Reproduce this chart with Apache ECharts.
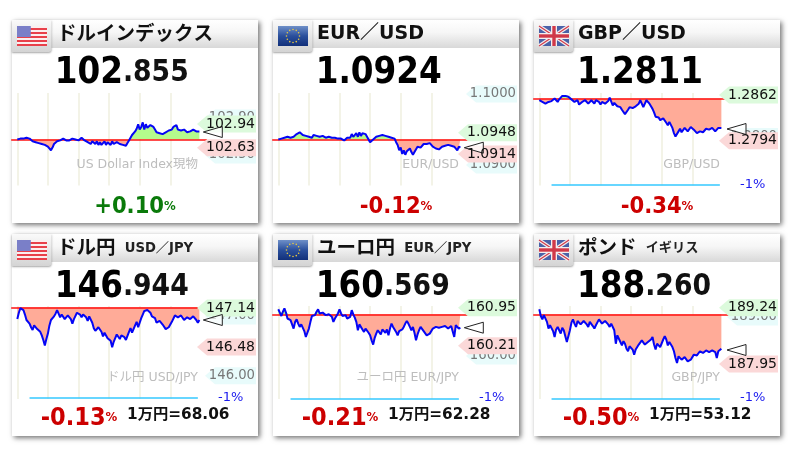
<!DOCTYPE html>
<html><head><meta charset="utf-8">
<style>html,body{margin:0;padding:0;background:#fff}#c{width:788px;height:458px}</style>
<script src="https://cdn.jsdelivr.net/npm/echarts@6/dist/echarts.min.js"></script>
</head><body><div id="c"></div>
<script>
// change from previous close, in 0.01% units
const usdIndexChange=[0,1,1,0,1,2,2,3,1,0,-2,-1,-3,-2,-4,-3,-5,-4,-6,-7,-8,-10,-12,-9,-5,-7,-2,-3,-1,0,1,0,-1,1,-1,0,1,2,0,1,
-1,0,2,1,-1,-2,-3,-1,-5,-2,-3,-5,-2,-6,-3,-6,-5,-2,-6,-3,-4,-6,-2,-5,-6,-3,-2,-5,-3,-6,-5,-7,-4,-1,1,5,4,9,12,17,
11,14,19,11,17,13,11,16,18,14,11,8,10,7,9,6,5,8,7,10,9,11,14,12,16,11,13,10,9,11,10,8,10,9,7,11,13,9,8,9];
const eurUsdChange=[0,2,1,0,2,1,3,1,2,4,3,4,6,5,8,6,5,7,4,6,3,4,2,5,3,4,2,3,5,4,3,2,1,3,1,2,0,2,3,1,
3,1,2,-1,-2,2,4,2,6,3,5,7,3,8,4,7,5,6,3,5,-3,-4,0,2,3,1,4,2,5,3,4,6,3,5,2,4,1,-3,-6,-12,
-9,-16,-12,-17,-13,-15,-10,-14,-17,-14,-16,-8,-6,-9,-8,-5,-7,-5,-6,-4,-6,-8,-7,-10,-12,-11,-10,-8,-9,-7,-8,-6,-8,-7,-6,-8,-7,-12,-8,-9];
const gbpUsdChange=[-2,-3,-4,-5,-6,-5,-4,-2,-3,-1,0,-2,-4,-1,1,3,4,3,4,2,
1,-1,-2,-4,-3,-2,-7,-5,-4,-6,-2,-3,-6,-5,-2,-4,-6,-2,-1,-4,
-7,-4,-5,-6,-5,-3,1,0,-8,-5,-6,-9,-11,-10,-13,-15,-18,-16,-13,-10,
-8,-11,-12,-9,-10,-6,-2,-4,-10,-6,-2,-3,-6,-9,-12,-16,-21,-19,-22,-25,
-27,-23,-22,-28,-31,-27,-29,-34,-40,-44,-46,-38,-35,-39,-37,-34,-35,-38,-37,-33,
-33,-36,-37,-40,-41,-38,-36,-39,-38,-35,-33,-36,-37,-34,-33,-38,-37,-34,-33,-34];
const usdJpyChange=[-13,-6,-1,-2,-3,-8,-14,-16,-18,-22,-25,-20,-19,-24,-23,-27,-31,-36,-42,-35,
-29,-20,-14,-12,-10,-7,-3,-7,-11,-8,-10,-13,-14,-9,-7,-13,-18,-13,-11,-6,
-5,-8,-11,-8,-7,-11,-15,-10,-11,-17,-23,-26,-27,-22,-21,-27,-32,-28,-29,-34,
-32,-37,-44,-38,-34,-30,-32,-35,-31,-30,-33,-36,-34,-27,-23,-28,-27,-20,-16,-22,
-21,-12,-8,-4,-2,-3,-1,-6,-10,-9,-12,-17,-18,-15,-14,-19,-21,-24,-25,-22,
-21,-16,-14,-9,-7,-11,-12,-9,-11,-14,-13,-11,-11,-13,-12,-10,-11,-14,-17,-14];
const eurJpyChange=[6,2,-2,3,7,2,-5,-3,-7,-12,-17,-9,-6,-11,-15,-12,-13,-20,-27,-22,
-17,-9,-2,-3,-1,3,6,1,-1,2,1,-1,-3,0,1,-3,-9,-5,-4,1,
6,1,-2,-1,-1,-5,-7,-3,5,0,-4,-9,-19,-12,-13,-18,-21,-17,-17,-22,
-25,-31,-36,-28,-23,-19,-21,-24,-18,-17,-22,-18,-25,-17,-11,-15,-15,-21,-25,-20,
-22,-18,-15,-11,-8,-11,-15,-19,-15,-22,-31,-24,-19,-15,-17,-20,-22,-25,-27,-23,
-21,-17,-17,-15,-17,-16,-17,-15,-15,-14,-15,-17,-15,-14,-15,-27,-13,-15,-17,-16];
const gbpJpyChange=[6,-2,-6,-1,-2,-9,-17,-13,-15,-20,-27,-18,-15,-19,-23,-16,-19,-26,-33,-26,
-19,-10,-6,-11,-15,-8,-6,-12,-13,-8,-7,-12,-15,-9,-8,-14,-17,-13,-11,-6,
-6,-11,-13,-8,-7,-12,-15,-11,-9,-19,-35,-25,-27,-33,-37,-32,-35,-41,-44,-38,
-37,-42,-48,-42,-40,-36,-37,-31,-31,-36,-37,-33,-35,-30,-27,-36,-42,-35,-35,-39,
-38,-30,-26,-30,-37,-33,-35,-39,-44,-52,-58,-50,-48,-54,-56,-51,-50,-56,-58,-54,
-54,-48,-46,-49,-48,-44,-42,-46,-46,-43,-42,-45,-46,-43,-41,-45,-52,-44,-42,-41];

const titles=['ドルインデックス','EUR／USD','GBP／USD','ドル円','ユーロ円','ポンド'];
const subTitles=['','','','USD／JPY','EUR／JPY','イギリス'];
const priceMain=['102','1.0924','1.2811','146','160','188'];
const priceDecimals=['.855','','','.944','.569','.260'];
const changeLabels=['+0.10','-0.12','-0.34','-0.13','-0.21','-0.50'];
const highLabels=['102.94','1.0948','1.2862','147.14','160.95','189.24'];
const lowLabels=['102.63','1.0914','1.2794','146.48','160.21','187.95'];
const axisLabels=[['102.90','102.50'],['1.1000','1.0900'],['1.2800'],['147.00','146.00'],['160.00'],['189.00']];
const watermarks=['US Dollar Index現物','EUR/USD','GBP/USD','ドル円 USD/JPY','ユーロ円 EUR/JPY','GBP/JPY'];
const perManYen=['','','','1万円=68.06','1万円=62.28','1万円=53.12'];
const flagKinds=['us','eu','uk','us','eu','uk'];
const changeSeries=[usdIndexChange,eurUsdChange,gbpUsdChange,usdJpyChange,eurJpyChange,gbpJpyChange];

// layout
const L=[12,273,534,12,273,534], T=[20,20,20,234,234,234], PW=246, PH=[203,203,203,202,202,202];
const baseY=[139.5,139.5,98.5,307.3,314.3,314.3];
const pxPerUnit=[.9,.9,.865,.907,.84,.84];
const hasMinus=[0,0,1,1,1,1], minusY=[0,0,184.5,398,398,398];
const plotTop=[93,93,93,306,306,306], plotBot=[185.5,185.5,185.5,399,399,399];
const hiY=[124,132.7,95,308,307.7,307.7], loY=[147.7,154,140.7,347,345.7,364];
const axY=[[118,155],[94,165],[136.5],[316,375.7],[356],[317]];
const triX=[191.3,191.3,193,191.3,191.3,193], triY=[132,147.7,129,320,327.7,350];
const priceX=[109.7,105.7,106,109.7,109.7,110];
const FS='"DejaVu Sans","Noto Sans CJK JP",sans-serif', TAG='"DejaVu Sans",sans-serif';
const PAD=4, NCAT=129, STEP=1.53;
const cats=Array.from({length:NCAT},(_,i)=>String(i));

const grids=[],xAxes=[],yAxes=[],series=[],g=[];
function rect(x,y,w,h,style,z,extra){return {type:'rect',shape:Object.assign({x,y,width:w,height:h},extra||{}),style,z,silent:true};}
function poly(points,style,z){return {type:'polygon',shape:{points},style,z,silent:true};}
function text(x,y,t,font,fill,align,z,rich,sx){return {type:'text',x,y,z,silent:true,scaleX:sx||1,originX:0,originY:0,style:{text:t,font,fill,align:align||'left',verticalAlign:'middle',rich}};}
function tag(l,yc,color,z,tipOff){const r=l+244,tip=l+tipOff,h=8.5;return poly([[tip,yc],[tip+10,yc-h],[r,yc-h],[r,yc+h],[tip+10,yc+h]],{fill:color},z);}
function flag(kind,x,y,w,h,z){
  const o=[];
  if(kind==='us'){
    for(let i=0;i<5;i++){o.push(rect(x,y+i*h/5,w,h/10,{fill:'#fbeeee'},z));o.push(rect(x,y+i*h/5+h/10,w,h/10,{fill:'#e8404a'},z));}
    o.push(rect(x,y,w*.46,h*.55,{fill:'#7a7fc8'},z+1));
  }else if(kind==='eu'){
    o.push(rect(x,y,w,h,{fill:{type:'linear',x:0,y:0,x2:0,y2:1,colorStops:[{offset:0,color:'#6f90c8'},{offset:.5,color:'#2a4f9c'},{offset:1,color:'#12307a'}]}},z));
    for(let i=0;i<12;i++){const a=i*Math.PI/6;o.push({type:'circle',shape:{cx:x+w/2+6.5*Math.cos(a),cy:y+h/2+6.5*Math.sin(a),r:.8},style:{fill:'#e8c840'},z:z+1,silent:true});}
  }else{
    o.push(rect(x,y,w,h,{fill:'#4a62a8'},z));
    const ln=(a,b,c,d,col,lw)=>o.push({type:'line',shape:{x1:a,y1:b,x2:c,y2:d},style:{stroke:col,lineWidth:lw},z:z+1,silent:true});
    ln(x,y,x+w,y+h,'#f4eeee',3.6);ln(x+w,y,x,y+h,'#f4eeee',3.6);
    ln(x,y,x+w,y+h,'#d03848',1.2);ln(x+w,y,x,y+h,'#d03848',1.2);
    ln(x+w/2,y,x+w/2,y+h,'#f4eeee',6);ln(x,y+h/2,x+w,y+h/2,'#f4eeee',6);
    ln(x+w/2,y,x+w/2,y+h,'#d03848',3.4);ln(x,y+h/2,x+w,y+h/2,'#d03848',3.4);
  }
  return o;
}

changeSeries.forEach((vals,i)=>{
  const l=L[i],t=T[i],low=i>=3,s=pxPerUnit[i];
  // ---- panel chrome
  g.push(rect(l,t,PW,PH[i],{fill:'#fff',shadowBlur:5,shadowColor:'rgba(0,0,0,.55)',shadowOffsetX:2,shadowOffsetY:2},-5));
  g.push(rect(l,t,PW,28,{fill:{type:'linear',x:0,y:0,x2:0,y2:1,colorStops:[{offset:0,color:'#ffffff'},{offset:.45,color:'#f6f6f6'},{offset:1,color:'#d8d8d8'}]}},-4));
  g.push(rect(l,t,39.5,32,{fill:{type:'linear',x:0,y:0,x2:0,y2:1,colorStops:[{offset:0,color:'#fafafa'},{offset:1,color:'#d4d4d4'}]},shadowBlur:2,shadowColor:'rgba(0,0,0,.35)',shadowOffsetY:1},-3,{r:[0,0,3,0]}));
  flag(flagKinds[i],l+5,t+6,30,20,5).forEach(e=>g.push(e));
  const tx=l+(i==0||i==3?45:44);
  if(subTitles[i]){
    g.push(text(tx,t+14.5,`{a|${titles[i]}}{b|  ${subTitles[i]}}`,'',"#111",'left',8,{a:{font:`bold 19.5px ${FS}`,fill:'#111'},b:{font:`bold 13.2px ${FS}`,fill:'#222'}}));
  }else g.push(text(tx,t+14.5,titles[i],`bold ${i==0?19.5:19}px ${FS}`,'#111','left',8));
  // ---- price
  g.push(text(l+priceX[i],low?287:73,`{a|${priceMain[i]}}{b|${priceDecimals[i]}}`,'','#000','center',8,{a:{font:`bold 38px ${FS}`,fill:'#000'},b:{font:`bold 31px ${FS}`,fill:'#111'}},.86));
  // ---- price tags
  axisLabels[i].forEach((a,k)=>{g.push(tag(l,axY[i][k],'#e8fbfb',20,193));g.push(text(l+243,axY[i][k],a,`13.2px ${TAG}`,'#777','right',21));});
  g.push(tag(l,hiY[i],'#dcfadc',22,185));g.push(tag(l,loY[i],'#fbd8d8',22,185));
  const tr=l+triX[i];
  g.push(poly([[tr,triY[i]],[tr+19,triY[i]-5.5],[tr+19,triY[i]+5.5]],{fill:'rgba(255,255,255,.7)',stroke:'#222',lineWidth:1},23));
  g.push(text(l+243,hiY[i],highLabels[i],`14px ${TAG}`,'#111','right',24));
  g.push(text(l+243,loY[i],lowLabels[i],`14px ${TAG}`,'#111','right',24));
  // ---- watermark & change
  g.push(text(l+186,low?378:165,watermarks[i],`12.5px ${FS}`,'#bdbdbd','right',6));
  const col=vals===usdIndexChange?'#0a7a0a':'#cc0000';
  const cx=low?l+67:l+123, cy=low?418:207, fz=low?25:23.5;
  g.push(text(cx,cy,`{a|${changeLabels[i]}}{b|%}`,'',col,'center',8,{a:{font:`bold ${fz}px ${FS}`,fill:col},b:{font:`bold 13px ${FS}`,fill:col}},.9));
  if(perManYen[i])g.push(text(l+115,415,perManYen[i],`bold 15.3px ${FS}`,'#111','left',8));
  if(hasMinus[i])g.push(text(l+206,minusY[i],'-1%',`13px ${TAG}`,'#1a1aee','left',8));

  // ---- chart
  const left=l+5.3-PAD*STEP, h=plotBot[i]-plotTop[i];
  const yMax=(baseY[i]-plotTop[i])/s, yMin=yMax-h/s;
  grids.push({left,top:plotTop[i],width:(NCAT-1)*STEP,height:h});
  xAxes.push({type:'category',gridIndex:i,data:cats,boundaryGap:false,z:0,
    axisLine:{show:false},axisTick:{show:false},axisLabel:{show:false},
    splitLine:{show:true,interval:k=>(k-PAD)>=0&&(k-PAD)%20===0&&(k-PAD)<=100,lineStyle:{color:'#efefdf',width:1.5}}});
  yAxes.push({type:'value',gridIndex:i,min:yMin,max:yMax,show:false,splitLine:{show:false}});
  const pad=a=>[null,null,null,null,...a];
  const common={type:'line',xAxisIndex:i,yAxisIndex:i,showSymbol:false,silent:true,clip:false,animation:false};
  series.push(Object.assign({},common,{name:'pos'+i,data:pad(vals.map(v=>Math.max(v,0))),lineStyle:{width:0},areaStyle:{origin:0,color:'#b4fb8c',opacity:1},z:2}));
  series.push(Object.assign({},common,{name:'neg'+i,data:pad(vals.map(v=>Math.min(v,0))),lineStyle:{width:0},areaStyle:{origin:0,color:'#ffab98',opacity:1},z:2}));
  const refs=[[{xAxis:'0',yAxis:0,lineStyle:{color:'#ff1111',width:1.6}},{xAxis:String(NCAT-1),yAxis:0}]];
  if(hasMinus[i]) refs.push([{xAxis:'12',yAxis:-100,lineStyle:{color:'#35c8ff',width:1.6}},{xAxis:'122',yAxis:-100}]);
  series.push({...common,name:'chg'+i,data:pad(vals),lineStyle:{color:'#0505f5',width:2},z:4,
    markLine:{silent:true,symbol:'none',animation:false,label:{show:false},lineStyle:{type:'solid'},z:3,data:refs}});
});

const chart=echarts.init(document.getElementById('c'),null,{renderer:'canvas'});
chart.setOption({backgroundColor:'#fff',animation:false,grid:grids,xAxis:xAxes,yAxis:yAxes,series,graphic:{elements:g}});
</script></body></html>
